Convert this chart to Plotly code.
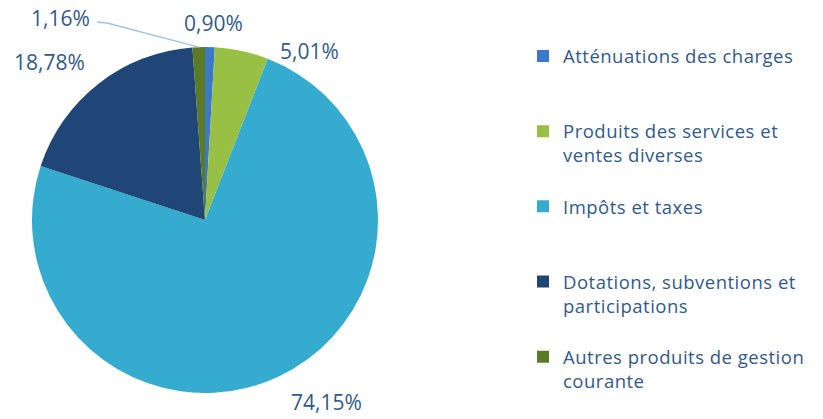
import math
import plotly.graph_objects as go

# Budget breakdown (recettes de fonctionnement)
categories = [
    "Atténuations des charges",
    "Produits des services et<br>ventes diverses",
    "Impôts et taxes",
    "Dotations, subventions et<br>participations",
    "Autres produits de gestion<br>courante",
]
shares = [0.90, 5.01, 74.15, 18.78, 1.16]
pct_labels = ["0,90%", "5,01%", "74,15%", "18,78%", "1,16%"]
colors = ["#3A78C8", "#98C045", "#35ACCF", "#1F4677", "#5A7A25"]

# page body has an 8px margin, so figure pixels = screenshot pixels - 8
W, H = 823, 419
cx, cy, r = 197, 212, 173
# label centres in figure pixels
label_pos = [(205, 15), (301, 43), (318, 394), (41, 54), (53, 10)]

text_color = "#2F5A8C"
font_family = "'Open Sans', sans-serif"


def spaced(line):
    return f'<span style="letter-spacing:0.5px">{line}</span>'


# pad every legend entry to three lines so the entries are evenly spaced
legend_labels = []
for c in categories:
    lines = c.split("<br>")
    lines = [spaced(l) for l in lines] + [" "] * (3 - len(lines))
    legend_labels.append("<br>".join(lines))

fig = go.Figure(go.Pie(
    labels=legend_labels,
    values=shares,
    sort=False,
    direction="clockwise",
    rotation=0,
    marker=dict(colors=colors, line=dict(width=0)),
    textinfo="none",
    domain=dict(x=[(cx - r) / W, (cx + r) / W], y=[1 - (cy + r) / H, 1 - (cy - r) / H]),
    hoverinfo="percent",
))

for txt, (x, y) in zip(pct_labels, label_pos):
    fig.add_annotation(
        x=x / W, y=1 - y / H, xref="paper", yref="paper",
        xanchor="center", yanchor="middle",
        text=txt, showarrow=False, borderpad=0,
        font=dict(size=21, color=text_color, family=font_family),
    )

# leader line from the small "Autres" slice to its label
total = sum(shares)
mid = (total - shares[-1] / 2) / total * 2 * math.pi
px = cx + r * math.sin(mid)
py = cy - r * math.cos(mid)
fig.add_shape(
    type="path", xref="paper", yref="paper",
    path=f"M {89 / W},{1 - 14 / H} L {99 / W},{1 - 15 / H} L {px / W},{1 - py / H}",
    line=dict(color="#9DC3E6", width=1.5),
)

fig.update_layout(
    width=W,
    height=H,
    margin=dict(l=0, r=0, t=0, b=0),
    paper_bgcolor="white",
    font=dict(family=font_family, size=18.5, color=text_color),
    legend=dict(
        x=515 / W, y=1 - 29.5 / H, xanchor="left", yanchor="top",
        valign="top",
        font=dict(size=18.5, color=text_color, family=font_family),
        itemwidth=30,
    ),
)

fig.write_html("out.html")
